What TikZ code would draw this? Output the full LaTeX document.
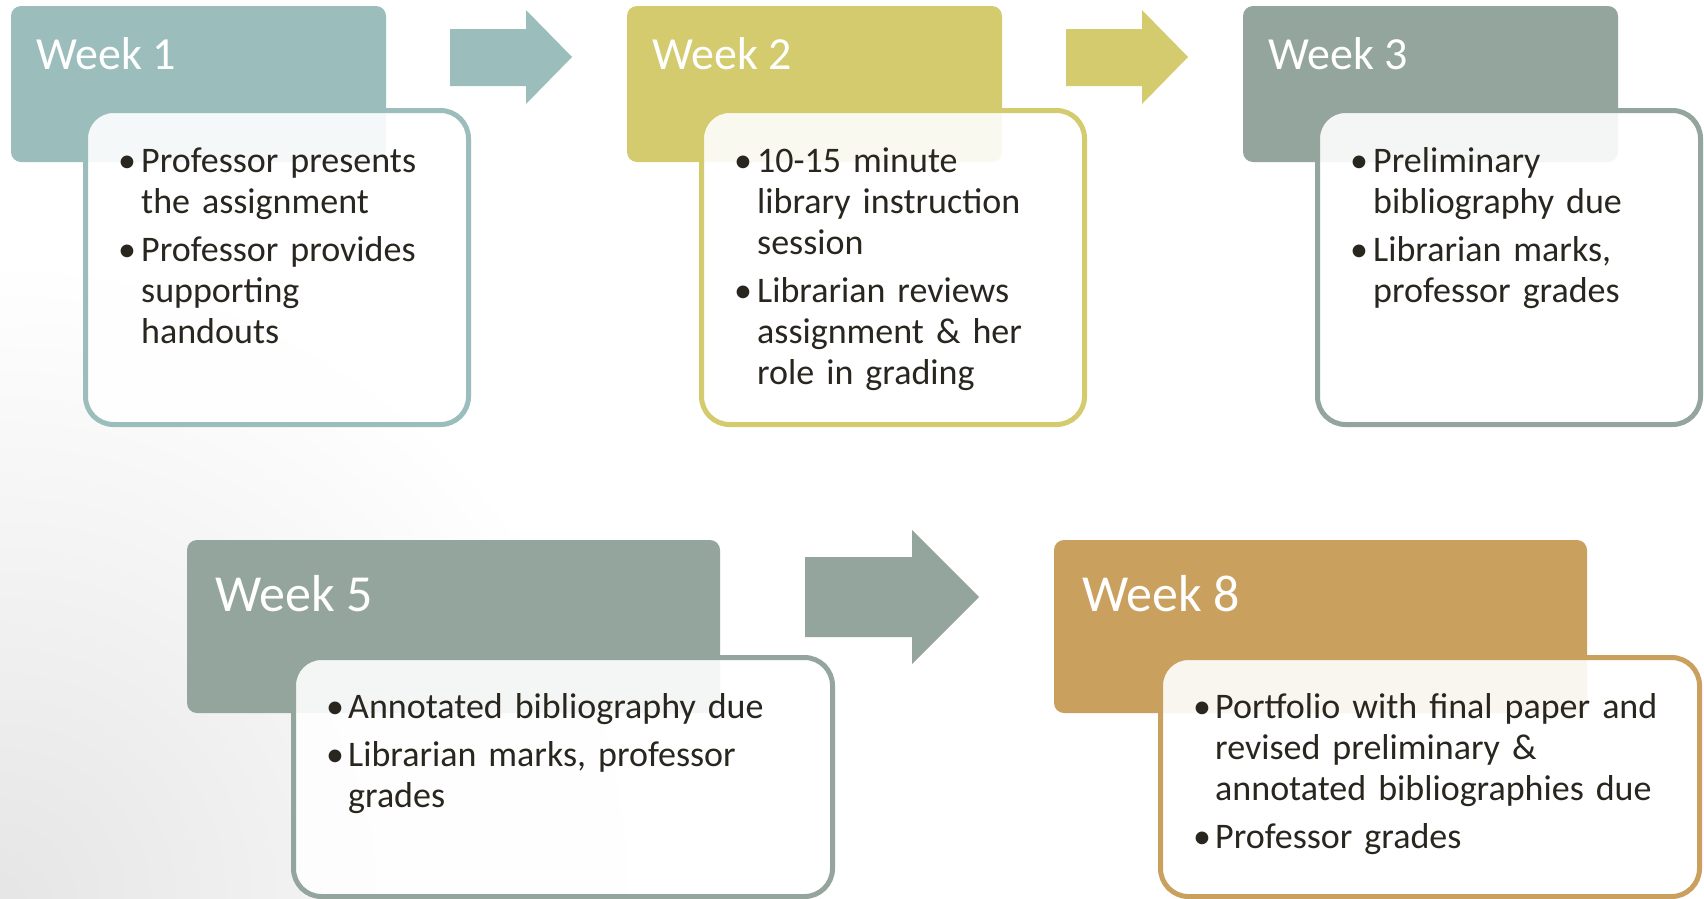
\documentclass[tikz,border=0pt]{standalone}
\usepackage{fontspec}
\setmainfont{Carlito}
\definecolor{cA}{RGB}{155,190,189}
\definecolor{cB}{RGB}{211,203,110}
\definecolor{cC}{RGB}{148,165,157}
\definecolor{cD}{RGB}{201,160,94}
\definecolor{ink}{RGB}{40,38,30}
\newlength\bhang
\newcommand{\bul}[1]{\noindent\hangindent=\bhang\hangafter=1\hbox to\bhang{\textbullet\hss}#1\par}
\newcommand{\bgap}{\vspace{7pt}}
\tikzset{
  head/.style={fill=#1, draw=none, rounded corners=10pt, inner sep=0pt, outer sep=0pt, anchor=north west},
  card/.style={draw=#1, line width=5pt, fill=white, fill opacity=0.9, rounded corners=28pt, inner sep=0pt, outer sep=0pt, anchor=north west},
  wk/.style={text=white, inner sep=0pt, anchor=base west},
  body/.style={text=ink, inner sep=0pt, anchor=base west, text width=#1, align=left},
  blockarrow/.style={fill=#1, draw=none}
}
\begin{document}
\begin{tikzpicture}[x=1pt,y=-1pt]
\useasboundingbox (0,0) rectangle (1704,898);
\fill[white] (0,0) rectangle (1704,898);
\begin{scope}
\clip (0,0) rectangle (1704,898);
\shade[inner color=black!10, outer color=white] (0,898) circle (640);
\end{scope}
% top row
\node[head=cA, minimum width=375pt, minimum height=156pt] (h1) at (11,6) {};
\node[head=cB, minimum width=375pt, minimum height=156pt] (h2) at (627,6) {};
\node[head=cC, minimum width=375pt, minimum height=156pt] (h3) at (1243,6) {};
\node[card=cA, minimum width=383pt, minimum height=314pt] (t1) at (85.5,110.5) {};
\node[card=cB, minimum width=383pt, minimum height=314pt] (t2) at (701.5,110.5) {};
\node[card=cC, minimum width=383pt, minimum height=314pt] (t3) at (1317.5,110.5) {};
% bottom row
\node[head=cC, minimum width=533pt, minimum height=173pt] (h5) at (187,540) {};
\node[head=cD, minimum width=533pt, minimum height=173pt] (h8) at (1054,540) {};
\node[card=cC, minimum width=539pt, minimum height=239pt] (t5) at (293.5,657.5) {};
\node[card=cD, minimum width=539pt, minimum height=239pt] (t8) at (1160.5,657.5) {};
% arrows
\fill[blockarrow=cA] (450,29) -- (526,29) -- (526,10) -- (572,57) -- (526,104) -- (526,86) -- (450,86) -- cycle;
\fill[blockarrow=cB] (1066,29) -- (1142,29) -- (1142,10) -- (1188,57) -- (1142,104) -- (1142,86) -- (1066,86) -- cycle;
\fill[blockarrow=cC] (805,557) -- (912,557) -- (912,530) -- (979,597) -- (912,664) -- (912,637) -- (805,637) -- cycle;
% headings
\node[wk, font=\fontsize{46}{50}\selectfont] (w1) at (36,69) {Week 1};
\node[wk, font=\fontsize{46}{50}\selectfont] (w2) at (652,69) {Week 2};
\node[wk, font=\fontsize{46}{50}\selectfont] (w3) at (1268,69) {Week 3};
\node[wk, font=\fontsize{52}{56}\selectfont] (w5) at (215,611) {Week 5};
\node[wk, font=\fontsize{52}{56}\selectfont] (w8) at (1082,611) {Week 8};
% bodies
\node[body=340pt, font=\fontsize{36}{41}\selectfont] (b1) at (118,172) {\setlength\bhang{23pt}%
\bul{Professor presents\newline the assignment}\bgap
\bul{Professor provides\newline supporting\newline handouts}};
\node[body=340pt, font=\fontsize{36}{41}\selectfont] (b2) at (734,172) {\setlength\bhang{23pt}%
\bul{10-15 minute\newline library instruction\newline session}\bgap
\bul{Librarian reviews\newline assignment \& her\newline role in grading}};
\node[body=340pt, font=\fontsize{36}{41}\selectfont] (b3) at (1350,172) {\setlength\bhang{23pt}%
\bul{Preliminary\newline bibliography due}\bgap
\bul{Librarian marks,\newline professor grades}};
\node[body=480pt, font=\fontsize{36}{41}\selectfont] (b5) at (326,718) {\setlength\bhang{22pt}%
\bul{Annotated bibliography due}\bgap
\bul{Librarian marks, professor\newline grades}};
\node[body=480pt, font=\fontsize{36}{41}\selectfont] (b8) at (1193,718) {\setlength\bhang{22pt}%
\bul{Portfolio with final paper and\newline revised preliminary \&\newline annotated bibliographies due}\bgap
\bul{Professor grades}};
\end{tikzpicture}
\end{document}
